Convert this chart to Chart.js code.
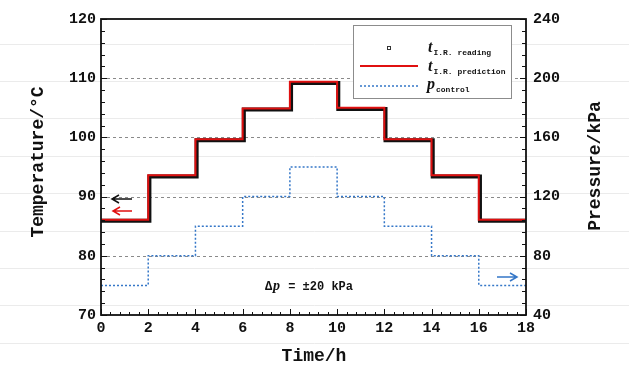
<!DOCTYPE html>
<html>
<head>
  <title>Temperature and pressure steps</title>
  <script src="https://cdn.jsdelivr.net/npm/chart.js"></script>
  <style>
    html, body { margin: 0; padding: 0; background: #fff; }
    #wrap { width: 629px; height: 365px; }
  </style>
</head>
<body>
  <div id="wrap"><canvas id="chartCanvas" width="629" height="365"></canvas></div>

  <script>
    // step start times (h); last point closes the final step
    const timeH = [0, 2, 4, 6, 8, 10, 12, 14, 16, 18];
    // measured reading lags the set steps slightly
    const readingTimeH = [0, 2.05, 4.05, 6.05, 8.05, 10.05, 12.05, 14.05, 16.05, 18];
    const tempReading = [85.9, 93.4, 99.5, 104.7, 109.2, 104.8, 99.5, 93.4, 85.9, 85.9];
    const tempPrediction = [86.1, 93.6, 99.7, 104.9, 109.4, 105.0, 99.7, 93.6, 86.1, 86.1];
    const pControl = [60, 80, 100, 120, 140, 120, 100, 80, 60, 60];

    const tempTicks = [70, 80, 90, 100, 110, 120];
    const pressTicks = [40, 80, 120, 160, 200, 240];
    const timeTicks = [0, 2, 4, 6, 8, 10, 12, 14, 16, 18];

    const MONO = "'Liberation Mono', 'DejaVu Sans Mono', monospace";
    const SERIF = "'Liberation Serif', 'DejaVu Serif', serif";
    const BLUE = "#3577c8";
    const RED = "#e01010";

    function pts(xs, ys) {
      return xs.map((t, i) => ({ x: t, y: ys[i] }));
    }

    // faint ruled lines behind everything
    const paperPlugin = {
      id: "paper",
      beforeDraw(chart) {
        const ctx = chart.ctx;
        ctx.save();
        ctx.fillStyle = "#fff";
        ctx.fillRect(0, 0, chart.width, chart.height);
        ctx.strokeStyle = "#ebebeb";
        ctx.lineWidth = 1;
        for (let y = 43.5; y < chart.height; y += 37.4) {
          ctx.beginPath();
          ctx.moveTo(0, Math.round(y) + 0.5);
          ctx.lineTo(chart.width, Math.round(y) + 0.5);
          ctx.stroke();
        }
        ctx.restore();
      },
      beforeDatasetsDraw(chart) {
        const ctx = chart.ctx, a = chart.chartArea, ys = chart.scales.y;
        ctx.save();
        ctx.strokeStyle = "#8a8a8a";
        ctx.lineWidth = 1;
        ctx.setLineDash([3, 3]);
        [80, 90, 100, 110].forEach(v => {
          const py = Math.round(ys.getPixelForValue(v)) + 0.5;
          ctx.beginPath();
          ctx.moveTo(a.left, py);
          ctx.lineTo(a.right, py);
          ctx.stroke();
        });
        ctx.restore();
      }
    };

    function arrow(ctx, x1, x2, y, color) {
      // arrow from x1 to x2, head at x2
      const dir = Math.sign(x2 - x1);
      ctx.save();
      ctx.strokeStyle = color;
      ctx.lineWidth = 1.5;
      ctx.beginPath();
      ctx.moveTo(x1, y);
      ctx.lineTo(x2, y);
      ctx.moveTo(x2 - dir * 7, y - 4);
      ctx.lineTo(x2, y);
      ctx.lineTo(x2 - dir * 7, y + 4);
      ctx.stroke();
      ctx.restore();
    }

    function subText(ctx, x, y, main, sub, mainFont) {
      ctx.font = mainFont;
      ctx.fillText(main, x, y);
      const w = ctx.measureText(main).width;
      ctx.font = "bold 8px " + MONO;
      ctx.fillText(sub, x + w + 1, y + 3);
    }

    const framePlugin = {
      id: "frame",
      afterDraw(chart) {
        const ctx = chart.ctx, a = chart.chartArea;
        const xs = chart.scales.x, ys = chart.scales.y, y1 = chart.scales.y1;
        ctx.save();
        ctx.strokeStyle = "#111";
        ctx.lineWidth = 1;

        // inward ticks
        const tick = (x1, y1_, x2, y2) => {
          ctx.beginPath(); ctx.moveTo(x1, y1_); ctx.lineTo(x2, y2); ctx.stroke();
        };
        for (let v = 0; v <= 18.001; v += 0.4) {
          const px = Math.round(xs.getPixelForValue(v)) + 0.5;
          const major = Math.abs(v / 2 - Math.round(v / 2)) < 0.01;
          tick(px, a.bottom, px, a.bottom - (major ? 6 : 3));
        }
        for (let v = 70; v <= 120.001; v += 2) {
          const py = Math.round(ys.getPixelForValue(v)) + 0.5;
          const major = v % 10 === 0;
          tick(a.left, py, a.left + (major ? 6 : 4), py);
        }
        for (let v = 40; v <= 240.001; v += 8) {
          const py = Math.round(y1.getPixelForValue(v)) + 0.5;
          const major = v % 40 === 0;
          tick(a.right, py, a.right - (major ? 6 : 4), py);
        }

        // frame
        ctx.lineWidth = 1.8;
        ctx.strokeRect(a.left, a.top, a.right - a.left, a.bottom - a.top);

        // axis titles
        ctx.fillStyle = "#111";
        ctx.font = "bold 18px " + MONO;
        ctx.textAlign = "center";
        ctx.textBaseline = "middle";
        ctx.fillText("Time/h", 314, 356);
        ctx.save();
        ctx.translate(38, 162);
        ctx.rotate(-Math.PI / 2);
        ctx.fillText("Temperature/\u00B0C", 0, 0);
        ctx.restore();
        ctx.save();
        ctx.translate(595, 166);
        ctx.rotate(-Math.PI / 2);
        ctx.fillText("Pressure/kPa", 0, 0);
        ctx.restore();

        // arrows pointing to the axes
        arrow(ctx, 132, 112, 199, "#111");
        arrow(ctx, 132, 113, 211, RED);
        arrow(ctx, 497, 517, 277, BLUE);

        // annotation
        ctx.textAlign = "left";
        ctx.textBaseline = "alphabetic";
        ctx.fillStyle = "#111";
        ctx.font = "bold 12px " + MONO;
        ctx.fillText("\u0394", 265, 290);
        ctx.font = "italic bold 14px " + SERIF;
        ctx.fillText("p", 273, 290);
        ctx.font = "bold 12px " + MONO;
        ctx.fillText(" = \u00B120 kPa", 281, 290);

        // legend
        ctx.fillStyle = "#fff";
        ctx.fillRect(353, 25, 158, 73);
        ctx.strokeStyle = "#8c8c8c";
        ctx.lineWidth = 1;
        ctx.strokeRect(353.5, 25.5, 158, 73);

        ctx.strokeStyle = "#333";
        ctx.strokeRect(387.5, 46.5, 3, 3);

        ctx.strokeStyle = RED;
        ctx.lineWidth = 2;
        ctx.beginPath(); ctx.moveTo(360, 66); ctx.lineTo(418, 66); ctx.stroke();

        ctx.strokeStyle = BLUE;
        ctx.lineWidth = 1.5;
        ctx.setLineDash([2, 2]);
        ctx.beginPath(); ctx.moveTo(360, 86); ctx.lineTo(418, 86); ctx.stroke();
        ctx.setLineDash([]);

        ctx.fillStyle = "#111";
        subText(ctx, 428, 52, "t", "I.R. reading", "italic bold 16px " + SERIF);
        subText(ctx, 428, 71, "t", "I.R. prediction", "italic bold 16px " + SERIF);
        subText(ctx, 427, 89, "p", "control", "italic bold 16px " + SERIF);

        ctx.restore();
      }
    };

    const ctx = document.getElementById("chartCanvas").getContext("2d");
    new Chart(ctx, {
      type: "line",
      data: {
        datasets: [
          {
            label: "t I.R. prediction",
            data: pts(timeH, tempPrediction),
            yAxisID: "y",
            stepped: true,
            borderColor: RED,
            borderWidth: 2,
            pointRadius: 0,
            order: 0
          },
          {
            label: "t I.R. reading",
            data: pts(readingTimeH, tempReading),
            yAxisID: "y",
            stepped: true,
            borderColor: "#111",
            borderWidth: 4,
            pointRadius: 0,
            order: 1
          },
          {
            label: "p control",
            data: pts(timeH, pControl),
            yAxisID: "y1",
            stepped: true,
            borderColor: BLUE,
            borderWidth: 1.5,
            borderDash: [2, 2],
            pointRadius: 0,
            order: 2
          }
        ]
      },
      options: {
        responsive: false,
        animation: false,
        layout: { padding: { top: 19, left: 0, right: 0, bottom: 0 } },
        plugins: { legend: { display: false }, tooltip: { enabled: false } },
        scales: {
          x: {
            type: "linear",
            min: 0, max: 18,
            afterBuildTicks: s => { s.ticks = timeTicks.map(v => ({ value: v })); },
            afterFit: s => { s.height = 50; },
            grid: { display: false, drawTicks: false },
            border: { display: false },
            ticks: { color: "#111", padding: 4, maxRotation: 0, font: { family: MONO, size: 15, weight: "bold" } }
          },
          y: {
            position: "left",
            min: 70, max: 120,
            afterBuildTicks: s => { s.ticks = tempTicks.map(v => ({ value: v })); },
            afterFit: s => { s.width = 101; },
            grid: { display: false, drawTicks: false },
            border: { display: false },
            ticks: { color: "#111", padding: 5, font: { family: MONO, size: 15, weight: "bold" } }
          },
          y1: {
            position: "right",
            min: 40, max: 240,
            afterBuildTicks: s => { s.ticks = pressTicks.map(v => ({ value: v })); },
            afterFit: s => { s.width = 103; },
            grid: { display: false, drawTicks: false },
            border: { display: false },
            ticks: { color: "#111", padding: 7, font: { family: MONO, size: 15, weight: "bold" } }
          }
        }
      },
      plugins: [paperPlugin, framePlugin]
    });
  </script>
</body>
</html>
